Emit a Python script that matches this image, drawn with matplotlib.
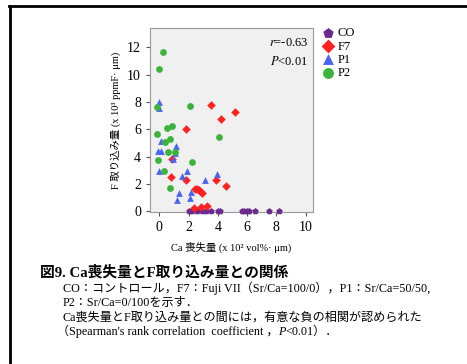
import matplotlib
matplotlib.use("Agg")
import matplotlib.pyplot as plt
from matplotlib.lines import Line2D

plt.rcParams['font.family'] = ['Liberation Serif', 'Noto Sans CJK JP']
plt.rcParams['mathtext.fontset'] = 'stix'

# Data: Ca loss (x10^2 vol%·µm) vs F uptake (x10^3 ppmF·µm)
co_x = [2.0, 2.25, 2.55, 2.9, 3.2, 3.55, 4.0, 4.15, 5.65, 5.8, 6.0, 6.1, 6.55, 7.5, 8.2]
co_y = [0.0] * 15

f7_x = [3.52, 5.18, 4.25, 1.83, 0.88, 0.8, 1.83, 3.9, 4.55, 2.45, 2.6, 2.72, 2.82, 2.92, 2.35, 2.82, 3.25]
f7_y = [7.74, 7.28, 6.74, 6.02, 3.8, 2.55, 2.3, 2.3, 1.86, 1.62, 1.65, 1.55, 1.45, 1.32, 0.22, 0.3, 0.38]

p1_x = [0.0, -0.05, 0.09, -0.07, 0.09, 1.14, 1.06, 0.92, -0.01, 1.57, 1.88, 3.95, 3.15, 2.19, 1.37, 2.07, 1.2]
p1_y = [8.03, 7.55, 5.16, 4.45, 4.4, 4.8, 4.27, 3.82, 2.92, 2.62, 2.95, 2.75, 2.3, 1.45, 1.32, 1.0, 0.83]

p2_x = [0.27, 0.0, -0.18, 2.1, 0.84, 0.55, -0.14, 4.09, 0.73, 0.39, 0.6, 1.05, -0.1, 2.27, 0.33, 0.76]
p2_y = [11.64, 10.4, 7.62, 7.67, 6.26, 6.06, 5.65, 5.45, 5.31, 5.06, 4.33, 4.35, 3.75, 3.58, 2.92, 1.69]

x_ticks = [0, 2, 4, 6, 8, 10]
y_ticks = [0, 2, 4, 6, 8, 10, 12]

fig = plt.figure(figsize=(4.67, 3.64), dpi=100)
ax = fig.add_axes([0.321, 0.418, 0.349, 0.505])
ax.set_facecolor('#f0f0f0')

ms = 24
ax.scatter(co_x, co_y, marker='p', s=ms, color='#6a2a8e', label='CO', clip_on=False, zorder=3, linewidths=0)
ax.scatter(f7_x, f7_y, marker='D', s=ms * 0.8, color='#ff2020', label='F7', clip_on=False, zorder=3, linewidths=0)
ax.scatter(p1_x, p1_y, marker='^', s=ms, color='#4a64f0', label='P1', clip_on=False, zorder=3, linewidths=0)
ax.scatter(p2_x, p2_y, marker='o', s=ms, color='#3cb43c', label='P2', clip_on=False, zorder=3, linewidths=0)

ax.set_xlim(-0.64, 10.5)
ax.set_ylim(-0.03, 13.4)
ax.set_xticks(x_ticks)
ax.set_yticks(y_ticks)
ax.tick_params(labelsize=10, length=3, color='#555555', direction='out')
for s in ax.spines.values():
    s.set_color('#999999')
    s.set_linewidth(0.8)

ax.set_xlabel('Ca 喪失量 (x 10² vol%· μm)', fontsize=7.5, labelpad=6)
ax.set_ylabel('F 取り込み量 (x 10³ ppmF· μm)', fontsize=7.5, labelpad=4)

ax.text(0.97, 0.95, '$\\mathit{r}$=-0.63', transform=ax.transAxes, ha='right', va='top', fontsize=9)
ax.text(0.97, 0.855, '$\\mathit{P}$<0.01', transform=ax.transAxes, ha='right', va='top', fontsize=9)

leg = ax.legend(loc='upper left', bbox_to_anchor=(1.0, 1.045), frameon=False, fontsize=9,
                handletextpad=0.2, labelspacing=0.1, borderaxespad=0.2, markerscale=1.6,
                handlelength=1.2)

# Frame lines
fig.add_artist(Line2D([9 / 467, 1.0], [1 - 6 / 364, 1 - 6 / 364], color='black', lw=2))
fig.add_artist(Line2D([10 / 467, 10 / 467], [1 - 6 / 364, 0.0], color='black', lw=2))

def fy(y):
    return 1 - y / 364

fig.text(40 / 467, fy(272), '図9. Ca喪失量とF取り込み量との関係', fontsize=10.6, fontweight='bold', va='center', ha='left')
fs = 8.7
fig.text(63 / 467, fy(288.5), 'CO：コントロール，F7：Fuji VII（Sr/Ca=100/0），P1：Sr/Ca=50/50,', fontsize=fs, va='center', ha='left')
fig.text(63 / 467, fy(303), 'P2：Sr/Ca=0/100を示す．', fontsize=fs, va='center', ha='left')
fig.text(63 / 467, fy(317.5), 'Ca喪失量とF取り込み量との間には，有意な負の相関が認められた', fontsize=fs, va='center', ha='left')

# Last line composed of pieces so that P is italic
renderer = fig.canvas.get_renderer()
pieces = [('（Spearman\'s rank correlation  coefficient ，', 'normal'),
          ('P', 'italic'),
          ('<0.01）．', 'normal')]
xpix = 57.0
for txt, style in pieces:
    t = fig.text(xpix / 467, fy(335), txt, fontsize=fs, va='baseline', ha='left', style=style)
    bb = t.get_window_extent(renderer=renderer)
    xpix += bb.width

fig.savefig('out.png', dpi=100)
